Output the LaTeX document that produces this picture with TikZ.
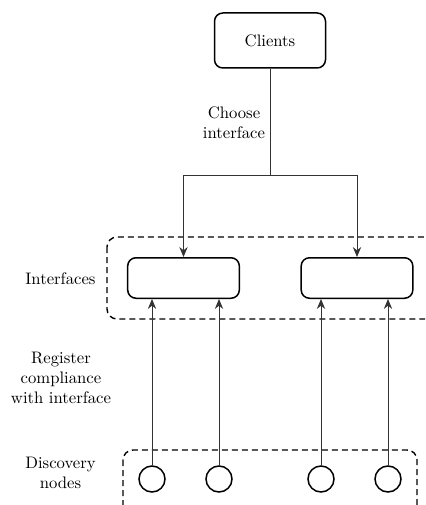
\documentclass[tikz,border=0pt]{standalone}
\usetikzlibrary{arrows.meta}
\begin{document}
\begin{tikzpicture}[
  x=0.6pt, y=-0.6pt,
  font=\fontsize{10pt}{12pt}\selectfont,
  box/.style={draw, line width=0.9pt, rounded corners=5pt, inner sep=0pt},
  node circ/.style={draw, circle, line width=0.9pt, minimum size=15.6pt, inner sep=0pt},
  group/.style={draw, dashed, line width=0.85pt, dash pattern=on 3.6pt off 2.4pt, rounded corners=6pt},
  link/.style={line width=0.5pt, draw=black!80},
  arrow/.style={link, -{Stealth[length=6pt, width=5pt, inset=2pt]}},
  lbl/.style={align=center, inner sep=0pt}
]
\useasboundingbox (0,0) rectangle (425,505);
\clip (0,0) rectangle (425,505);

% dashed groups (partly running past the page edge)
\draw[group] (107,237) rectangle (445,319);
\draw[group] (123,450) rectangle (417,530);

% clients
\node[box, minimum width=66.6pt, minimum height=33pt] (clients) at (270,40.5) {Clients};

% interfaces
\node[box, minimum width=67pt, minimum height=24.3pt] (ifL) at (183.5,278) {};
\node[box, minimum width=67pt, minimum height=24.3pt] (ifR) at (357,278) {};

% discovery nodes
\node[node circ] (d1) at (152,479) {};
\node[node circ] (d2) at (219,479) {};
\node[node circ] (d3) at (321,479) {};
\node[node circ] (d4) at (388,479) {};

% side labels
\node[lbl] (lInt) at (60.5,279) {Interfaces};
\node[lbl] (lReg) at (61,378) {Register\\compliance\\with interface};
\node[lbl] (lDisc) at (60.5,472.5) {Discovery\\nodes};
\node[lbl] (lChoose) at (234,123) {Choose\\interface};

% clients choose an interface
\coordinate (split) at (270,175);
\draw[link] (clients.south) -- (split);
\draw[arrow] (split) -| (ifL.north);
\draw[arrow] (split) -| (ifR.north);

% discovery nodes register with interfaces
\draw[arrow] (d1.north) -- (d1.north |- ifL.south);
\draw[arrow] (d2.north) -- (d2.north |- ifL.south);
\draw[arrow] (d3.north) -- (d3.north |- ifR.south);
\draw[arrow] (d4.north) -- (d4.north |- ifR.south);
\end{tikzpicture}
\end{document}
